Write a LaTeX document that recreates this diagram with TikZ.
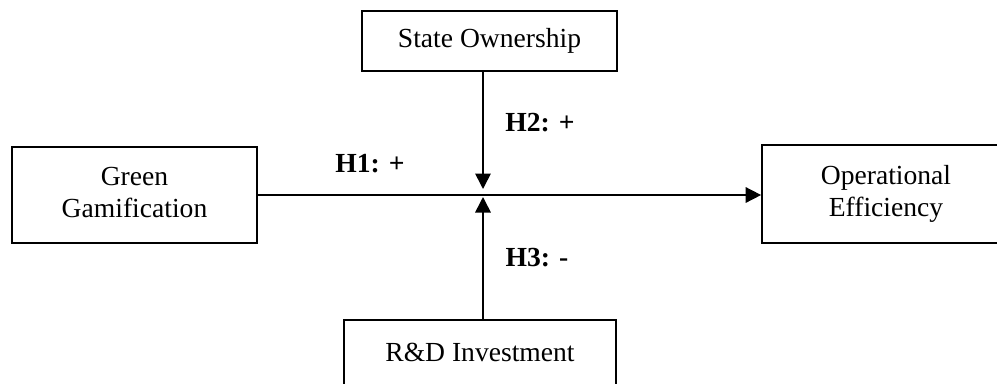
\documentclass[tikz,border=0pt]{standalone}
\usepackage{fontspec}
\setmainfont{Liberation Serif}
\usetikzlibrary{arrows.meta}

\begin{document}
\begin{tikzpicture}[x=0.02cm, y=-0.02cm,
    varbox/.style={draw, line width=1pt, align=center, inner sep=0pt,
        font=\fontsize{15.7pt}{18.2pt}\selectfont},
    hyp/.style={anchor=base, font=\fontsize{15.7pt}{18.2pt}\selectfont\bfseries},
    link/.style={line width=0.9pt, -{Triangle[width=0.31cm, length=0.31cm]}}]
    \useasboundingbox (0,0) rectangle (997,383);
    \clip (0,0) rectangle (997,383);

    % Boxes
    \node[varbox, minimum width=4.9cm, minimum height=1.92cm] (green) at (134.5,195) {Green\strut\\Gamification\strut};
    \node[varbox, minimum width=4.96cm, minimum height=1.96cm] (oper) at (886,194) {Operational\strut\\Efficiency\strut};
    \node[varbox, minimum width=5.1cm, minimum height=1.2cm] (state) at (489.5,41) {State Ownership\strut};
    \node[varbox, minimum width=5.44cm, minimum height=1.4cm] (rnd) at (480,355) {R\&D Investment\strut};

    % Points where the moderating arrows stop
    \coordinate (hubtop) at (483,189);
    \coordinate (hubbot) at (483,197);

    % Main path and moderators
    \draw[link] (green.east) -- (green.east -| oper.west);
    \draw[link] (state.south -| hubtop) -- (hubtop);
    \draw[link] (rnd.north -| hubbot) -- (hubbot);

    % Hypothesis labels
    \node[hyp] (h1) at (370,172) {H1: +};
    \node[hyp] (h2) at (540,131) {H2: +};
    \node[hyp] (h3) at (537,266) {H3: -};
\end{tikzpicture}
\end{document}
